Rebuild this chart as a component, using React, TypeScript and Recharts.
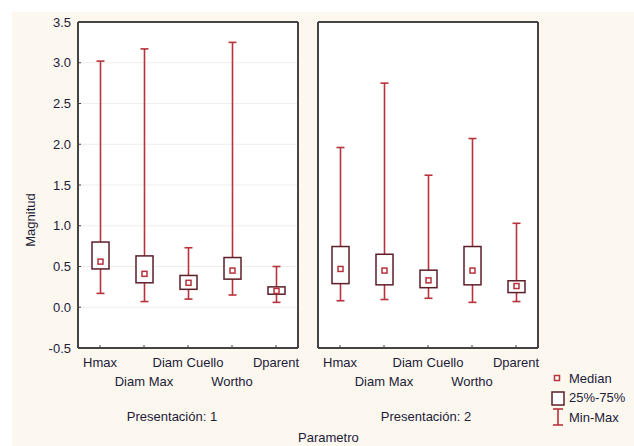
import { BarChart, Bar, XAxis, YAxis, CartesianGrid, Legend } from 'recharts';

const categories = ['Hmax', 'Diam Max', 'Diam Cuello', 'Wortho', 'Dparent'];
const yTicks = [-0.5, 0, 0.5, 1, 1.5, 2, 2.5, 3, 3.5];

// Presentación 1
const p1Min = [0.17, 0.07, 0.1, 0.15, 0.06];
const p1Q1 = [0.47, 0.3, 0.22, 0.345, 0.16];
const p1Median = [0.56, 0.41, 0.3, 0.45, 0.2];
const p1Q3 = [0.8, 0.63, 0.39, 0.61, 0.25];
const p1Max = [3.02, 3.17, 0.73, 3.25, 0.5];

// Presentación 2
const p2Min = [0.08, 0.095, 0.11, 0.06, 0.07];
const p2Q1 = [0.29, 0.275, 0.24, 0.275, 0.18];
const p2Median = [0.47, 0.45, 0.33, 0.45, 0.26];
const p2Q3 = [0.745, 0.65, 0.455, 0.745, 0.325];
const p2Max = [1.96, 2.75, 1.62, 2.07, 1.03];

const WHISKER = '#b8323c';
const BOX = '#5c1e27';
const FRAME = '#444';
const TEXT = '#1d2038';
const CREAM = '#fcf8f0';

const buildRows = (mn: number[], q1: number[], md: number[], q3: number[], mx: number[]) =>
  categories.map((name, i) => ({
    name,
    range: [mn[i], mx[i]],
    min: mn[i],
    q1: q1[i],
    median: md[i],
    q3: q3[i],
    max: mx[i],
  }));

const rows1 = buildRows(p1Min, p1Q1, p1Median, p1Q3, p1Max);
const rows2 = buildRows(p2Min, p2Q1, p2Median, p2Q3, p2Max);

// the bar spans min..max; q1, q3 and median are placed inside that span
const BoxShape = (props: any) => {
  const { x, y, width, height, payload } = props;
  if (x == null || !payload) return null;
  const top = Math.min(y, y + height);
  const bottom = Math.max(y, y + height);
  const { min, max, q1, q3, median } = payload;
  const toY = (v: number) => top + ((max - v) / (max - min)) * (bottom - top);
  const cx = x + width / 2;
  const cap = 4;
  const yQ1 = toY(q1);
  const yQ3 = toY(q3);
  const yMd = toY(median);
  return (
    <g>
      <line x1={cx} x2={cx} y1={top} y2={yQ3} stroke={WHISKER} strokeWidth={1.6} />
      <line x1={cx} x2={cx} y1={yQ1} y2={bottom} stroke={WHISKER} strokeWidth={1.6} />
      <line x1={cx - cap} x2={cx + cap} y1={top} y2={top} stroke={WHISKER} strokeWidth={1.6} />
      <line x1={cx - cap} x2={cx + cap} y1={bottom} y2={bottom} stroke={WHISKER} strokeWidth={1.6} />
      <rect x={x} y={yQ3} width={width} height={yQ1 - yQ3} fill="#fff" stroke={BOX} strokeWidth={1.5} />
      <rect x={cx - 2.5} y={yMd - 2.5} width={5} height={5} fill="#fff" stroke={WHISKER} strokeWidth={1.5} />
    </g>
  );
};

const CategoryTick = (props: any) => {
  const { x, y, payload, index } = props;
  const dy = index % 2 === 0 ? 19 : 38;
  return (
    <text x={x} y={y + dy} textAnchor="middle" fontSize={13} fill={TEXT}>
      {payload.value}
    </text>
  );
};

const LegendContent = () => (
  <svg width={86} height={60}>
    <rect x={6.5} y={5.5} width={5} height={5} fill="#fff" stroke={WHISKER} strokeWidth={1.5} />
    <text x={21} y={12.5} fontSize={13} fill={TEXT}>Median</text>
    <rect x={4} y={22} width={12} height={13} fill="#fff" stroke={BOX} strokeWidth={1.5} />
    <text x={21} y={32} fontSize={13} fill={TEXT}>25%-75%</text>
    <line x1={10} x2={10} y1={39} y2={55} stroke={WHISKER} strokeWidth={1.6} />
    <line x1={5} x2={15} y1={39} y2={39} stroke={WHISKER} strokeWidth={1.6} />
    <line x1={5} x2={15} y1={55} y2={55} stroke={WHISKER} strokeWidth={1.6} />
    <text x={21} y={52} fontSize={13} fill={TEXT}>Min-Max</text>
  </svg>
);

interface PanelProps {
  data: ReturnType<typeof buildRows>;
  title: string;
  titleDx: number;
  width: number;
  margin: { top: number; right: number; bottom: number; left: number };
  showY: boolean;
  withLegend?: boolean;
}

function Panel({ data, title, titleDx, width, margin, showY, withLegend }: PanelProps) {
  return (
    <BarChart width={width} height={446} data={data} margin={margin}>
      <CartesianGrid vertical={false} stroke="#f1ede8" fill="#fff" yAxisId="main" />
      <XAxis
        dataKey="name"
        interval={0}
        tickSize={-3}
        tickMargin={3}
        height={80}
        axisLine={{ stroke: FRAME, strokeWidth: 2 }}
        tickLine={{ stroke: FRAME }}
        tick={<CategoryTick />}
        label={{
          content: ({ viewBox }: any) => (
            <text
              x={viewBox.x + viewBox.width / 2 + titleDx}
              y={viewBox.y + 73}
              textAnchor="middle"
              fontSize={13}
              fill={TEXT}
            >
              {title}
            </text>
          ),
        }}
      />
      <XAxis
        xAxisId="top"
        orientation="top"
        dataKey="name"
        height={1}
        interval={0}
        tickSize={-3}
        tick={false}
        axisLine={{ stroke: FRAME, strokeWidth: 2 }}
        tickLine={{ stroke: FRAME }}
      />
      <YAxis
        yAxisId="main"
        type="number"
        domain={[-0.5, 3.5]}
        ticks={yTicks}
        width={showY ? 78 : 1}
        tickSize={-3}
        tickMargin={10}
        tick={showY ? { fontSize: 13, fill: TEXT } : false}
        tickFormatter={(v: number) => v.toFixed(1)}
        axisLine={{ stroke: FRAME, strokeWidth: 2 }}
        tickLine={{ stroke: FRAME }}
        label={
          showY
            ? {
                content: () => (
                  <text
                    transform="translate(30,220) rotate(-90)"
                    textAnchor="middle"
                    dominantBaseline="central"
                    fontSize={13}
                    fill={TEXT}
                  >
                    Magnitud
                  </text>
                ),
              }
            : undefined
        }
      />
      <YAxis
        yAxisId="right"
        orientation="right"
        type="number"
        domain={[-0.5, 3.5]}
        ticks={yTicks}
        width={1}
        tickSize={-3}
        tick={false}
        axisLine={{ stroke: FRAME, strokeWidth: 2 }}
        tickLine={{ stroke: FRAME }}
      />
      <Bar yAxisId="main" dataKey="range" barSize={17} shape={BoxShape} isAnimationActive={false} />
      {withLegend && (
        <Legend
          layout="horizontal"
          verticalAlign="middle"
          align="center"
          content={<LegendContent />}
          wrapperStyle={{ left: 248, top: 370, width: 86, height: 60 }}
        />
      )}
    </BarChart>
  );
}

export default function App() {
  return (
    <div
      style={{
        position: 'absolute',
        left: 0,
        top: 0,
        width: 634,
        height: 446,
        background: '#fff',
        fontFamily: '"Liberation Sans", Arial, sans-serif',
        overflow: 'hidden',
      }}
    >
      <div style={{ position: 'absolute', left: 12, top: 12, width: 622, height: 434, background: CREAM }} />
      <div style={{ position: 'absolute', left: 0, top: 0 }}>
        <Panel
          data={rows1}
          title="Presentación: 1"
          titleDx={-16}
          width={300}
          margin={{ top: 21, right: 1, bottom: 18, left: 0 }}
          showY
        />
      </div>
      <div style={{ position: 'absolute', left: 300, top: 0 }}>
        <Panel
          data={rows2}
          title="Presentación: 2"
          titleDx={-2}
          width={334}
          margin={{ top: 21, right: 95, bottom: 18, left: 17 }}
          showY={false}
          withLegend
        />
      </div>
      <div style={{ position: 'absolute', left: 298, top: 430, fontSize: 13, color: TEXT, lineHeight: '15px' }}>
        Parametro
      </div>
    </div>
  );
}
